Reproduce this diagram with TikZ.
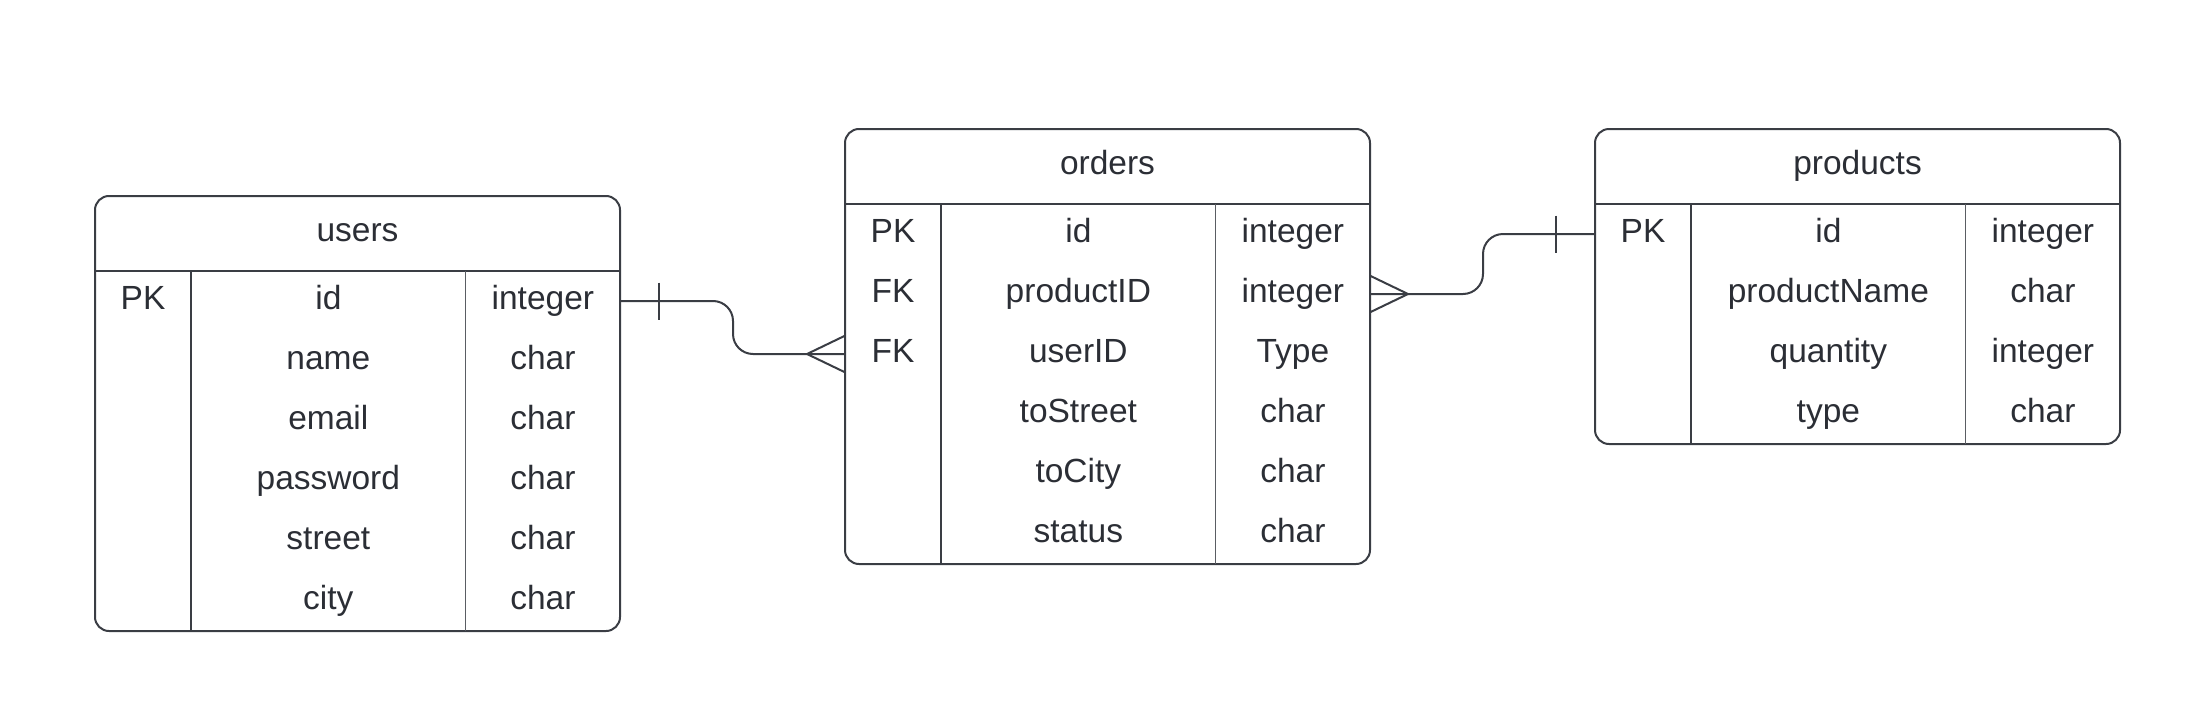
\documentclass[tikz,border=0pt]{standalone}
\usepackage{fontspec}
\setmainfont{Liberation Sans}
\usetikzlibrary{calc}
\definecolor{txt}{HTML}{2B2E35}
\definecolor{ln}{HTML}{3A3D44}
\definecolor{lnlight}{HTML}{5A5D63}
\tikzset{
  tablebox/.style={draw=ln, line width=2pt, rounded corners=14pt, rectangle, minimum width=525pt, inner sep=0pt, outer sep=0pt},
  hdrline/.style={draw=ln, line width=2pt},
  divA/.style={draw=ln, line width=2pt},
  divB/.style={draw=lnlight, line width=1.2pt},
  cell/.style={text=txt, font=\fontsize{33.5}{38}\selectfont, inner sep=0pt, anchor=base},
  conn/.style={draw=ln, line width=2pt}
}
\newcommand\ertable[5]{%
  \node[tablebox, minimum height={75+60*#4}, anchor=north west] (#1) at (#2,#3) {};
  \draw[hdrline] ([yshift=-75pt]#1.north west) -- ([yshift=-75pt]#1.north east);
  \draw[divA] ([xshift=96pt,yshift=-75pt]#1.north west) -- ([xshift=96pt]#1.south west);
  \draw[divB] ([xshift=370.7pt,yshift=-75pt]#1.north west) -- ([xshift=370.7pt]#1.south west);
  \node[cell] (#1title) at ($(#1.north)+(0,45.5)$) {#5};
}
\newcommand\errow[5]{%
  \node[cell] (#1k#2) at ($(#1.north west)+(48,{75+60*(#2)-30+8})$) {#3};
  \node[cell] (#1n#2) at ($(#1.north west)+(233.35,{75+60*(#2)-30+8})$) {#4};
  \node[cell] (#1t#2) at ($(#1.north west)+(447.85,{75+60*(#2)-30+8})$) {#5};
}
\begin{document}
\begin{tikzpicture}[x=1pt,y=-1pt]
\useasboundingbox (0,0) rectangle (2211,728);

% users
\ertable{users}{95}{196}{6}{users}
\errow{users}{1}{PK}{id}{integer}
\errow{users}{2}{}{name}{char}
\errow{users}{3}{}{email}{char}
\errow{users}{4}{}{password}{char}
\errow{users}{5}{}{street}{char}
\errow{users}{6}{}{city}{char}

% orders
\ertable{orders}{845}{129}{6}{orders}
\errow{orders}{1}{PK}{id}{integer}
\errow{orders}{2}{FK}{productID}{integer}
\errow{orders}{3}{FK}{userID}{Type}
\errow{orders}{4}{}{toStreet}{char}
\errow{orders}{5}{}{toCity}{char}
\errow{orders}{6}{}{status}{char}

% products
\ertable{products}{1595}{129}{4}{products}
\errow{products}{1}{PK}{id}{integer}
\errow{products}{2}{}{productName}{char}
\errow{products}{3}{}{quantity}{integer}
\errow{products}{4}{}{type}{char}

% connector users -> orders
\coordinate (c1s) at ($(users.north east)+(0,105)$);
\coordinate (c1e) at ($(orders.north west)+(0,225)$);
\draw[conn, rounded corners=20pt] (c1s) -- ++(113,0) |- (c1e);
\draw[conn] ($(c1s)+(39,-18.5)$) -- ($(c1s)+(39,18.5)$);
\draw[conn] ($(c1e)+(0,-18.3)$) -- ($(c1e)+(-38,0)$) -- ($(c1e)+(0,18.3)$);

% connector orders -> products
\coordinate (c2s) at ($(orders.north east)+(0,165)$);
\coordinate (c2e) at ($(products.north west)+(0,105)$);
\draw[conn, rounded corners=20pt] (c2s) -- ++(113,0) |- (c2e);
\draw[conn] ($(c2e)+(-39,-18.5)$) -- ($(c2e)+(-39,18.5)$);
\draw[conn] ($(c2s)+(0,-18.3)$) -- ($(c2s)+(38,0)$) -- ($(c2s)+(0,18.3)$);
\end{tikzpicture}
\end{document}
